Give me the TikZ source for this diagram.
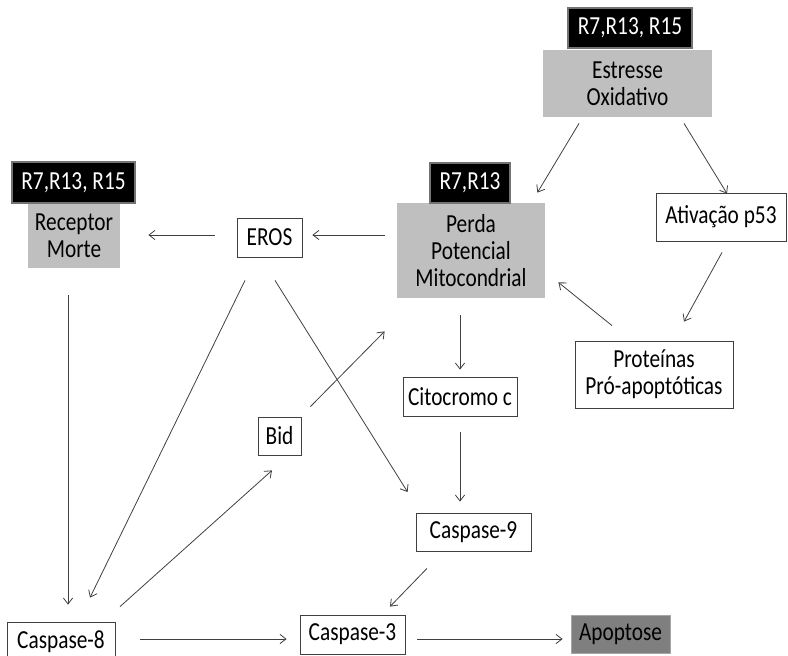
\documentclass[tikz,border=0pt]{standalone}
\usepackage{fontspec}
\setmainfont{Carlito}[FakeStretch=0.82]
\usepackage{tikz}
\usetikzlibrary{arrows.meta, calc}
\definecolor{boxgray}{RGB}{191,191,191}
\definecolor{apogray}{RGB}{127,127,127}

\begin{document}
\begin{tikzpicture}[x=0.75pt, y=-0.75pt,
    box/.style={rectangle, draw=black!75, line width=0.6pt, fill=white,
                align=center, inner sep=0pt, font=\fontsize{19.5}{20.5}\selectfont},
    graybox/.style={box, draw=none, fill=boxgray},
    tag/.style={rectangle, fill=black, draw=black!55, line width=1pt,
                text=white, inner sep=0pt, font=\fontsize{19.5}{20.5}\selectfont},
    arrow/.style={-{Straight Barb[length=4.5pt, width=7pt]}, draw=black!75,
                  line width=0.6pt}]
  \useasboundingbox (0,0) rectangle (788,656);
  \node[graybox, minimum width=126.75pt, minimum height=50.25pt] (est) at (627.5,83.5) {Estresse\\Oxidativo};
  \node[tag, minimum width=93pt, minimum height=30pt] (tagest) at (630,28) {R7,R13, R15};
  \node[graybox, minimum width=69pt, minimum height=48.75pt] (rec) at (74,235.5) {Receptor\\Morte};
  \node[tag, minimum width=92.25pt, minimum height=30.75pt] (tagrec) at (73.5,182.5) {R7,R13, R15};
  \node[graybox, minimum width=111pt, minimum height=71.25pt] (per) at (471,250.5) {Perda\\Potencial\\Mitocondrial};
  \node[tag, minimum width=60pt, minimum height=30pt] (tagper) at (470,183) {R7,R13};
  \node[box, minimum width=48.75pt, minimum height=29.25pt] (eros) at (269.5,237.5) {EROS};
  \node[box, minimum width=97.5pt, minimum height=36pt] (p53) at (721,217) {Ativação p53};
  \node[box, minimum width=118.5pt, minimum height=50.25pt] (prot) at (654,374.5) {Proteínas\\Pró-apoptóticas};
  \node[box, minimum width=85.5pt, minimum height=29.25pt] (cit) at (460,396.5) {Citocromo c};
  \node[box, minimum width=32.25pt, minimum height=28.5pt] (bid) at (279.5,436) {Bid};
  \node[box, minimum width=86.25pt, minimum height=28.5pt] (c9) at (473.5,532) {Caspase-9};
  \node[box, minimum width=81pt, minimum height=30pt] (c8) at (61,642) {Caspase-8};
  \node[box, minimum width=78.75pt, minimum height=29.25pt] (c3) at (352.5,634.5) {Caspase-3};
  \node[box, fill=apogray, draw=black!35, minimum width=74.25pt, minimum height=28.5pt] (apo) at (620.5,634) {Apoptose};
  \draw[arrow] ($(est.south)+(-48.5,6)$) -- ($(per.north east)+(-8,-10)$);
  \draw[arrow] ($(est.south)+(56.5,6)$) -- ($(p53.north)+(6,1)$);
  \draw[arrow] ($(per.west)+(-12,-15.5)$) -- ($(eros.east)+(10,-2.5)$);
  \draw[arrow] ($(eros.west)+(-22,-2.5)$) -- ($(rec.east)+(28,-0.5)$);
  \draw[arrow] ($(p53.south)+(1,11)$) -- ($(prot.north)+(30,-19)$);
  \draw[arrow] ($(prot.north)+(-42,-15)$) -- ($(per.south east)+(13,-16)$);
  \draw[arrow] ($(per.south)+(-11,17)$) -- ($(cit.north)+(0,-7)$);
  \draw[arrow] ($(cit.south)+(0,16)$) -- ($(c9.north)+(-13.5,-11)$);
  \draw[arrow] ($(eros.south)+(5.5,23)$) -- ($(c9.west)+(-8,-40)$);
  \draw[arrow] ($(eros.south)+(-24.5,23)$) -- ($(c8.north)+(29,-24)$);
  \draw[arrow] ($(rec.south)+(-6,27)$) -- ($(c8.north)+(7,-17)$);
  \draw[arrow] ($(c8.north)+(59,-15)$) -- ($(bid.south)+(-7.5,15)$);
  \draw[arrow] ($(bid.north east)+(9,-10)$) -- ($(per.south west)+(-12,33)$);
  \draw[arrow] ($(c9.south)+(-46.5,17)$) -- ($(c3.north)+(37.5,-8)$);
  \draw[arrow] ($(c8.east)+(25,-3)$) -- ($(c3.west)+(-13,4.5)$);
  \draw[arrow] ($(c3.east)+(12,4.5)$) -- ($(apo.west)+(-8,5)$);
\end{tikzpicture}
\end{document}
